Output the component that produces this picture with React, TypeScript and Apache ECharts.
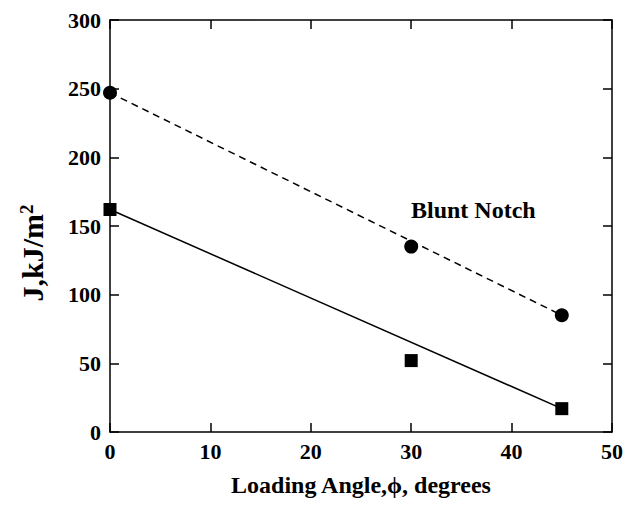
import React, { useEffect, useRef } from "react";
import * as echarts from "echarts";

const angles = [0, 30, 45];
const bluntNotch = [247, 135, 85];
const sharpNotch = [162, 52, 17];
const xTicks = [0, 10, 20, 30, 40, 50];
const yTicks = [0, 50, 100, 150, 200, 250, 300];

const FONT = "'Liberation Serif', 'Times New Roman', serif";

function pairs(xs: number[], ys: number[]) {
  return xs.map((x, i) => [x, ys[i]]);
}
function endLine(xs: number[], ys: number[]) {
  const n = xs.length - 1;
  return [
    [xs[0], ys[0]],
    [xs[n], ys[n]],
  ];
}

export default function App() {
  const ref = useRef<HTMLDivElement>(null);
  useEffect(() => {
    if (!ref.current) return;
    const chart = echarts.init(ref.current, null, { renderer: "svg" });
    const axisLine = { show: true, onZero: false, lineStyle: { color: "#000", width: 1.5 } };
    const axisTick = { show: true, inside: true, length: 9, lineStyle: { color: "#000", width: 1.5 } };
    const labelStyle = { color: "#000", fontFamily: FONT, fontWeight: "bold" as const, fontSize: 22 };
    chart.setOption({
      animation: false,
      backgroundColor: "#fff",
      grid: { left: 110, right: 25, top: 20, bottom: 78, containLabel: false },
      xAxis: [
        {
          type: "value",
          min: xTicks[0],
          max: xTicks[xTicks.length - 1],
          interval: 10,
          axisLine,
          axisTick,
          splitLine: { show: false },
          axisLabel: { ...labelStyle, margin: 8 },
          name: "Loading Angle,\u03d5, degrees",
          nameLocation: "middle",
          nameGap: 41,
          nameTextStyle: { color: "#000", fontFamily: FONT, fontWeight: "bold", fontSize: 24 },
        },
        {
          type: "value",
          position: "top",
          min: xTicks[0],
          max: xTicks[xTicks.length - 1],
          interval: 10,
          axisLine,
          axisTick,
          splitLine: { show: false },
          axisLabel: { show: false },
        },
      ],
      yAxis: [
        {
          type: "value",
          min: yTicks[0],
          max: yTicks[yTicks.length - 1],
          interval: 50,
          axisLine,
          axisTick,
          splitLine: { show: false },
          axisLabel: { ...labelStyle, margin: 9 },
        },
        {
          type: "value",
          position: "right",
          min: yTicks[0],
          max: yTicks[yTicks.length - 1],
          interval: 50,
          axisLine,
          axisTick,
          splitLine: { show: false },
          axisLabel: { show: false },
        },
      ],
      graphic: [
        {
          type: "text",
          x: 32,
          y: 253,
          rotation: Math.PI / 2,
          style: {
            text: "{a|J,kJ/m}{b|2}",
            align: "center",
            verticalAlign: "middle",
            fill: "#000",
            rich: {
              a: { fontFamily: FONT, fontWeight: "bold", fontSize: 30, fill: "#000" },
              b: { fontFamily: FONT, fontWeight: "bold", fontSize: 19, fill: "#000", verticalAlign: "top" },
            },
          },
        },
        {
          type: "text",
          left: 411,
          top: 198,
          style: {
            text: "Blunt Notch",
            fill: "#000",
            fontFamily: FONT,
            fontWeight: "bold",
            fontSize: 24,
          },
        },
      ],
      series: [
        {
          type: "line",
          data: endLine(angles, bluntNotch),
          symbol: "none",
          lineStyle: { color: "#000", width: 1.5, type: [7, 5] },
          z: 2,
        },
        {
          type: "line",
          data: endLine(angles, sharpNotch),
          symbol: "none",
          lineStyle: { color: "#000", width: 1.5 },
          z: 2,
        },
        {
          type: "scatter",
          data: pairs(angles, bluntNotch),
          symbol: "circle",
          symbolSize: 14,
          itemStyle: { color: "#000", opacity: 1 },
          z: 3,
        },
        {
          type: "scatter",
          data: pairs(angles, sharpNotch),
          symbol: "rect",
          symbolSize: 13,
          itemStyle: { color: "#000", opacity: 1 },
          z: 3,
        },
      ],
    });
    return () => chart.dispose();
  }, []);
  return (
    <div
      ref={ref}
      style={{ position: "fixed", left: 0, top: 0, width: 637, height: 510, background: "#fff" }}
    />
  );
}
